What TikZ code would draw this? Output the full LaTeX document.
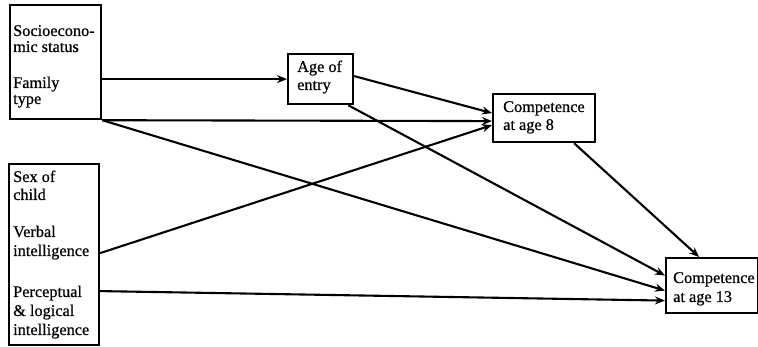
\documentclass[tikz,border=0pt]{standalone}
\usepackage{fontspec}
\setmainfont{Liberation Serif}[FakeBold=0.6]
\usetikzlibrary{arrows.meta,calc}
\begin{document}
\begin{tikzpicture}[x=1pt,y=-1pt,
  boxnode/.style={draw,line width=2.2pt,inner sep=0pt,anchor=north west},
  lbl/.style={anchor=base west,inner sep=0pt,font=\fontsize{16.3}{17}\selectfont},
  conn/.style={line width=2.1pt,-{Stealth[length=10pt,width=8pt]}},
  plain/.style={line width=2.1pt}]
\useasboundingbox (0,0) rectangle (758,347);
% boxes
\node[boxnode,minimum width=91pt,minimum height=114pt] (ses) at (9,4) {};
\node[boxnode,minimum width=90pt,minimum height=181pt] (b2) at (8,163) {};
\node[boxnode,minimum width=65pt,minimum height=50pt] (age) at (287,53) {};
\node[boxnode,minimum width=102pt,minimum height=48pt] (c8) at (492,93) {};
\node[boxnode,minimum width=92pt,minimum height=55pt] (c13) at (665,257) {};
% texts
\node[lbl] (t1) at (13,36) {Socioecono-};
\node[lbl] (t2) at (13,52) {mic status};
\node[lbl] (t3) at (13,88) {Family};
\node[lbl] (t4) at (13,104) {type};
\node[lbl] (t5) at (13,182) {Sex of};
\node[lbl] (t6) at (13,200) {child};
\node[lbl] (t7) at (13,237) {Verbal};
\node[lbl] (t8) at (13,256) {intelligence};
\node[lbl] (t9) at (13,297) {Perceptual};
\node[lbl] (t10) at (13,316) {\& logical};
\node[lbl] (t11) at (13,335) {intelligence};
\node[lbl] (t12) at (297,72) {Age of};
\node[lbl] (t13) at (297,90) {entry};
\node[lbl] (t14) at (503,112) {Competence};
\node[lbl] (t15) at (503,130) {at age 8};
\node[lbl] (t16) at (673,283) {Competence};
\node[lbl] (t17) at (673,302) {at age 13};
% connectors
\draw[conn] (ses.east |- age.west) -- (age.west);
\draw[conn] (ses.south east) -- ([yshift=-3pt]c8.west);
\draw[conn] (ses.south east) -- ([yshift=-5pt]c13.west);
\draw[conn] ([yshift=3pt]age.east) -- ([yshift=5pt]c8.west);
\draw[conn] ([xshift=-6pt]age.south east) -- ([yshift=10pt]c13.west);
\draw[conn] ([yshift=1.5pt]b2.east) -- ([yshift=-7pt]c8.west);
\draw[conn] ([yshift=-36.5pt]b2.east) -- ([yshift=-15pt]c13.west);
\draw[conn] ([xshift=30pt]c8.south) -- ([xshift=-13pt]c13.north);
\end{tikzpicture}
\end{document}
